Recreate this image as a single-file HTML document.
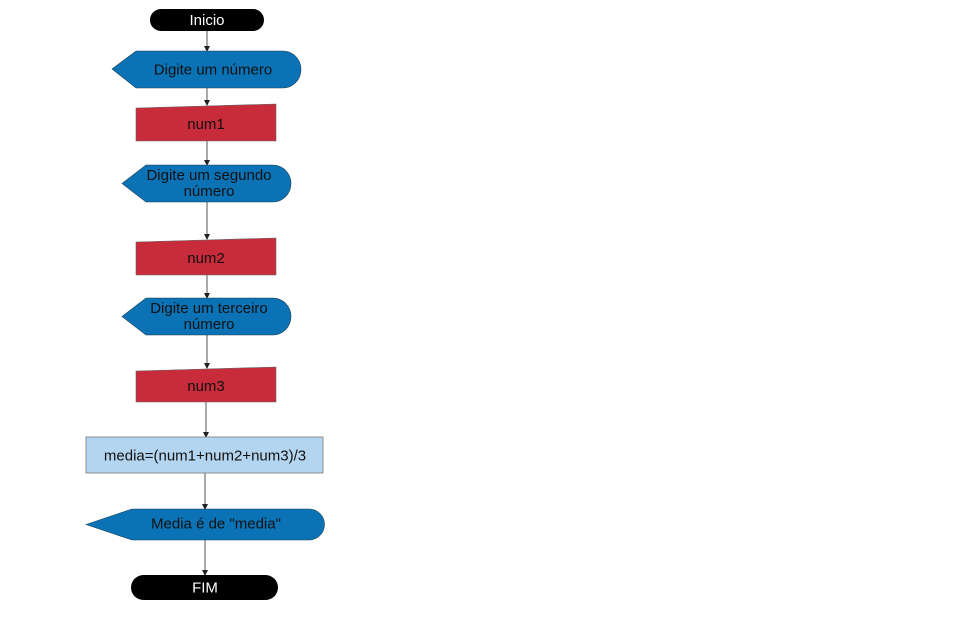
<!DOCTYPE html>
<html><head><style>body{margin:0;background:#fff}svg{display:block}</style></head><body>
<svg width="960" height="632" viewBox="0 0 960 632" font-family="Liberation Sans, sans-serif" font-size="15">
<defs><marker id="a" markerWidth="6" markerHeight="6" refX="5" refY="3" orient="auto"><path d="M0,0L6,3L0,6z" fill="#222"/></marker></defs>
<g stroke="#555" stroke-width="1" marker-end="url(#a)">
<line x1="207" y1="31" x2="207" y2="51"/>
<line x1="207" y1="88" x2="207" y2="105"/>
<line x1="207" y1="141" x2="207" y2="165"/>
<line x1="207" y1="202" x2="207" y2="239"/>
<line x1="207" y1="275" x2="207" y2="298"/>
<line x1="207" y1="335" x2="207" y2="368"/>
<line x1="206" y1="402" x2="206" y2="437"/>
<line x1="205" y1="473" x2="205" y2="509"/>
<line x1="205" y1="540" x2="205" y2="575"/>
</g>
<rect x="150" y="9" width="114" height="22" rx="11" fill="#000"/>
<text x="207" y="25" fill="#fff" text-anchor="middle">Inicio</text>
<path d="M112,69 L136,51 H283 A18,18.5 0 0 1 283,88 H136 Z" fill="#0a72b5" stroke="#245" stroke-width="0.6"/>
<text x="213" y="74.5" text-anchor="middle" fill="#111">Digite um número</text>
<path d="M136,108 L276,104 V141 H136 Z" fill="#c82b3a" stroke="#666" stroke-width="0.6"/>
<text x="206" y="129" text-anchor="middle" fill="#111">num1</text>
<path d="M122,183.5 L146,165 H273 A18,18.5 0 0 1 273,202 H146 Z" fill="#0a72b5" stroke="#245" stroke-width="0.6"/>
<text x="209" y="180" text-anchor="middle" fill="#111">Digite um segundo</text>
<text x="209" y="196" text-anchor="middle" fill="#111">número</text>
<path d="M136,242 L276,238 V275 H136 Z" fill="#c82b3a" stroke="#666" stroke-width="0.6"/>
<text x="206" y="263" text-anchor="middle" fill="#111">num2</text>
<path d="M122,316.5 L146,298 H273 A18,18.5 0 0 1 273,335 H146 Z" fill="#0a72b5" stroke="#245" stroke-width="0.6"/>
<text x="209" y="313" text-anchor="middle" fill="#111">Digite um terceiro</text>
<text x="209" y="329" text-anchor="middle" fill="#111">número</text>
<path d="M136,371 L276,367 V402 H136 Z" fill="#c82b3a" stroke="#666" stroke-width="0.6"/>
<text x="206" y="391" text-anchor="middle" fill="#111">num3</text>
<rect x="86" y="437" width="237" height="36" fill="#b3d5f0" stroke="#777" stroke-width="0.8"/>
<text x="205" y="460.5" text-anchor="middle" fill="#111">media=(num1+num2+num3)/3</text>
<path d="M86,524.5 L132,509 H309 A15.5,15.5 0 0 1 309,540 H132 Z" fill="#0a72b5" stroke="#245" stroke-width="0.6"/>
<text x="216" y="528.5" text-anchor="middle" fill="#111">Media é de "media"</text>
<rect x="131" y="575" width="147" height="25" rx="12.5" fill="#000"/>
<text x="205" y="592.5" fill="#fff" text-anchor="middle">FIM</text>
</svg>
</body></html>
